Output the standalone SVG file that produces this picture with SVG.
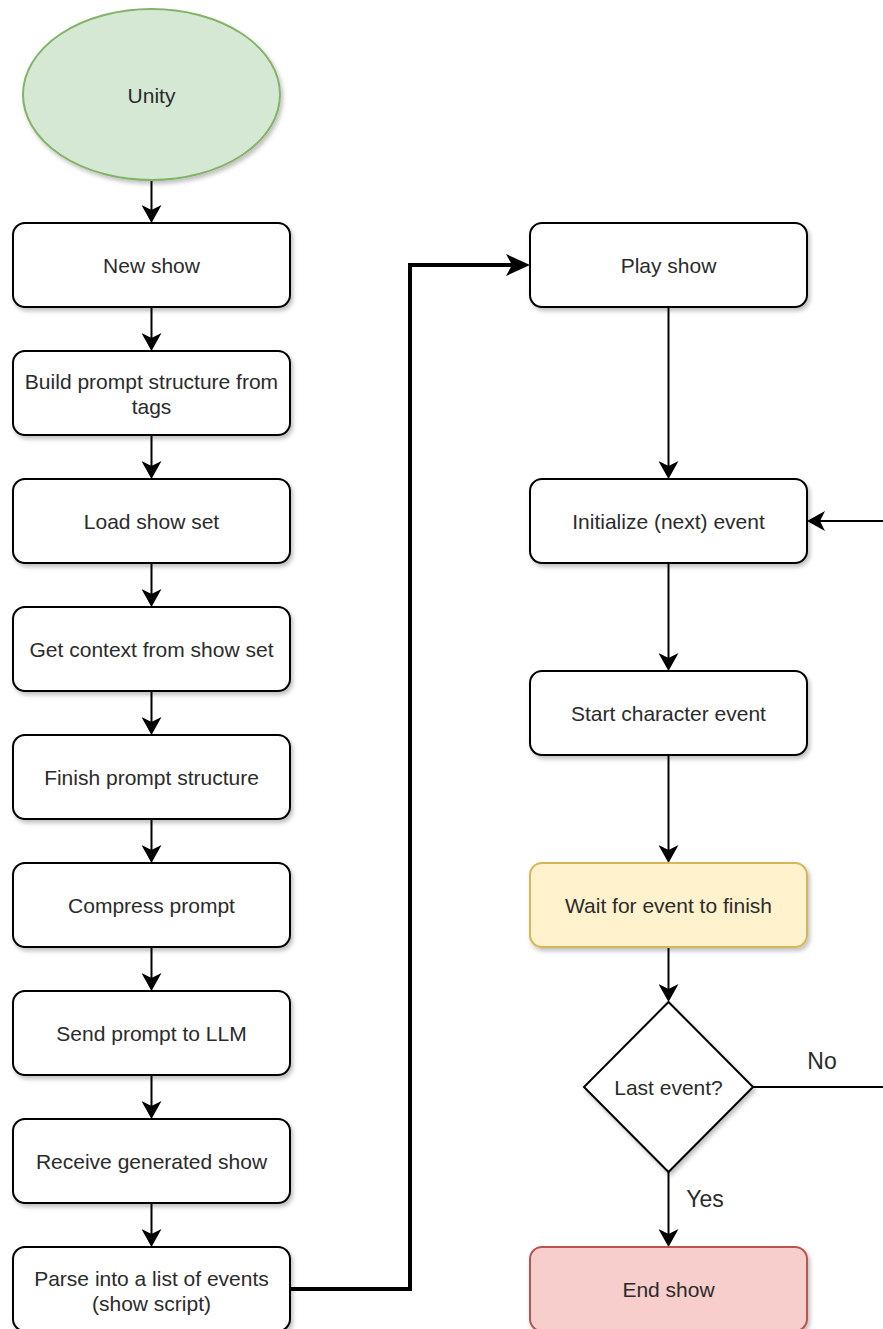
<svg xmlns="http://www.w3.org/2000/svg" width="883" height="1329" viewBox="0 0 883 1329">
<style>
.box{fill:#ffffff;stroke:#000000;stroke-width:2}
.t{font-family:"Liberation Sans",Arial,sans-serif;font-size:21px;fill:#2b2b2b;text-anchor:middle;dominant-baseline:central}
.lbl{font-size:23px}
.c{fill:none;stroke:#000000;stroke-width:2}
.thick{fill:none;stroke:#000000;stroke-width:4}
</style>
<defs>
<filter id="sh" x="-10%" y="-10%" width="130%" height="140%">
<feDropShadow dx="2" dy="3" stdDeviation="2" flood-color="#000" flood-opacity="0.25"/>
</filter>
<marker id="arr" markerUnits="userSpaceOnUse" markerWidth="20" markerHeight="20" refX="5" refY="10" orient="auto" viewBox="0 0 20 20">
<path d="M0,0 L18,10 L0,20 L5,10 z" fill="#000"/>
</marker>
<marker id="arrBig" markerUnits="userSpaceOnUse" markerWidth="30" markerHeight="24" refX="6" refY="11" orient="auto" viewBox="0 0 30 22">
<path d="M0,0 L24,11 L0,22 L6,11 z" fill="#000"/>
</marker>
</defs>

<g id="connectors">
<path class="c" d="M151.5,180 V210" marker-end="url(#arr)"/>
<path class="c" d="M151.5,307 V338" marker-end="url(#arr)"/>
<path class="c" d="M151.5,435 V466" marker-end="url(#arr)"/>
<path class="c" d="M151.5,563 V594" marker-end="url(#arr)"/>
<path class="c" d="M151.5,691 V722" marker-end="url(#arr)"/>
<path class="c" d="M151.5,819 V850" marker-end="url(#arr)"/>
<path class="c" d="M151.5,947 V978" marker-end="url(#arr)"/>
<path class="c" d="M151.5,1075 V1106" marker-end="url(#arr)"/>
<path class="c" d="M151.5,1203 V1234" marker-end="url(#arr)"/>
<path class="thick" d="M290,1289 H410 V265 H512" marker-end="url(#arrBig)"/>
<path class="c" d="M668.5,307 V466" marker-end="url(#arr)"/>
<path class="c" d="M668.5,563 V658" marker-end="url(#arr)"/>
<path class="c" d="M668.5,755 V850" marker-end="url(#arr)"/>
<path class="c" d="M668.5,947 V989" marker-end="url(#arr)"/>
<path class="c" d="M668.5,1172 V1234" marker-end="url(#arr)"/>
<path class="c" d="M753,1087 H890"/>
<path class="c" d="M890,521 H820" marker-end="url(#arr)"/>
<text class="t lbl" x="822" y="1061">No</text>
<text class="t lbl" x="705" y="1199">Yes</text>
</g>

<g id="unity">
<ellipse cx="151.5" cy="94.5" rx="128.5" ry="85.5" fill="#d5e8d4" stroke="#82b366" stroke-width="2" filter="url(#sh)"/>
<text class="t" x="151.5" y="95">Unity</text>
</g>
<g id="new-show">
<rect class="box" x="13" y="223" width="277" height="84" rx="12" filter="url(#sh)"/>
<text class="t" x="151.5" y="265">New show</text>
</g>
<g id="build-prompt">
<rect class="box" x="13" y="351" width="277" height="84" rx="12" filter="url(#sh)"/>
<text class="t" x="151.5" y="381">Build prompt structure from</text>
<text class="t" x="151.5" y="406">tags</text>
</g>
<g id="load-show-set">
<rect class="box" x="13" y="479" width="277" height="84" rx="12" filter="url(#sh)"/>
<text class="t" x="151.5" y="521">Load show set</text>
</g>
<g id="get-context">
<rect class="box" x="13" y="607" width="277" height="84" rx="12" filter="url(#sh)"/>
<text class="t" x="151.5" y="649">Get context from show set</text>
</g>
<g id="finish-prompt">
<rect class="box" x="13" y="735" width="277" height="84" rx="12" filter="url(#sh)"/>
<text class="t" x="151.5" y="777">Finish prompt structure</text>
</g>
<g id="compress-prompt">
<rect class="box" x="13" y="863" width="277" height="84" rx="12" filter="url(#sh)"/>
<text class="t" x="151.5" y="905">Compress prompt</text>
</g>
<g id="send-prompt">
<rect class="box" x="13" y="991" width="277" height="84" rx="12" filter="url(#sh)"/>
<text class="t" x="151.5" y="1033">Send prompt to LLM</text>
</g>
<g id="receive-show">
<rect class="box" x="13" y="1119" width="277" height="84" rx="12" filter="url(#sh)"/>
<text class="t" x="151.5" y="1161">Receive generated show</text>
</g>
<g id="parse-events">
<rect class="box" x="13" y="1247" width="277" height="84" rx="12" filter="url(#sh)"/>
<text class="t" x="151.5" y="1278">Parse into a list of events</text>
<text class="t" x="151.5" y="1303">(show script)</text>
</g>

<g id="play-show">
<rect class="box" x="530" y="223" width="277" height="84" rx="12" filter="url(#sh)"/>
<text class="t" x="668.5" y="265">Play show</text>
</g>
<g id="init-event">
<rect class="box" x="530" y="479" width="277" height="84" rx="12" filter="url(#sh)"/>
<text class="t" x="668.5" y="521">Initialize (next) event</text>
</g>
<g id="start-char-event">
<rect class="box" x="530" y="671" width="277" height="84" rx="12" filter="url(#sh)"/>
<text class="t" x="668.5" y="713">Start character event</text>
</g>
<g id="wait-event">
<rect x="530" y="863" width="277" height="84" rx="12" fill="#fff2cc" stroke="#d6b656" stroke-width="2" filter="url(#sh)"/>
<text class="t" x="668.5" y="905">Wait for event to finish</text>
</g>
<g id="last-event">
<polygon points="668.5,1002 753,1087 668.5,1172 584,1087" fill="#ffffff" stroke="#000" stroke-width="2" filter="url(#sh)"/>
<text class="t" x="668.5" y="1087">Last event?</text>
</g>
<g id="end-show">
<rect x="530" y="1247" width="277" height="84" rx="12" fill="#f8cecc" stroke="#b85450" stroke-width="2" filter="url(#sh)"/>
<text class="t" x="668.5" y="1289">End show</text>
</g>
</svg>
